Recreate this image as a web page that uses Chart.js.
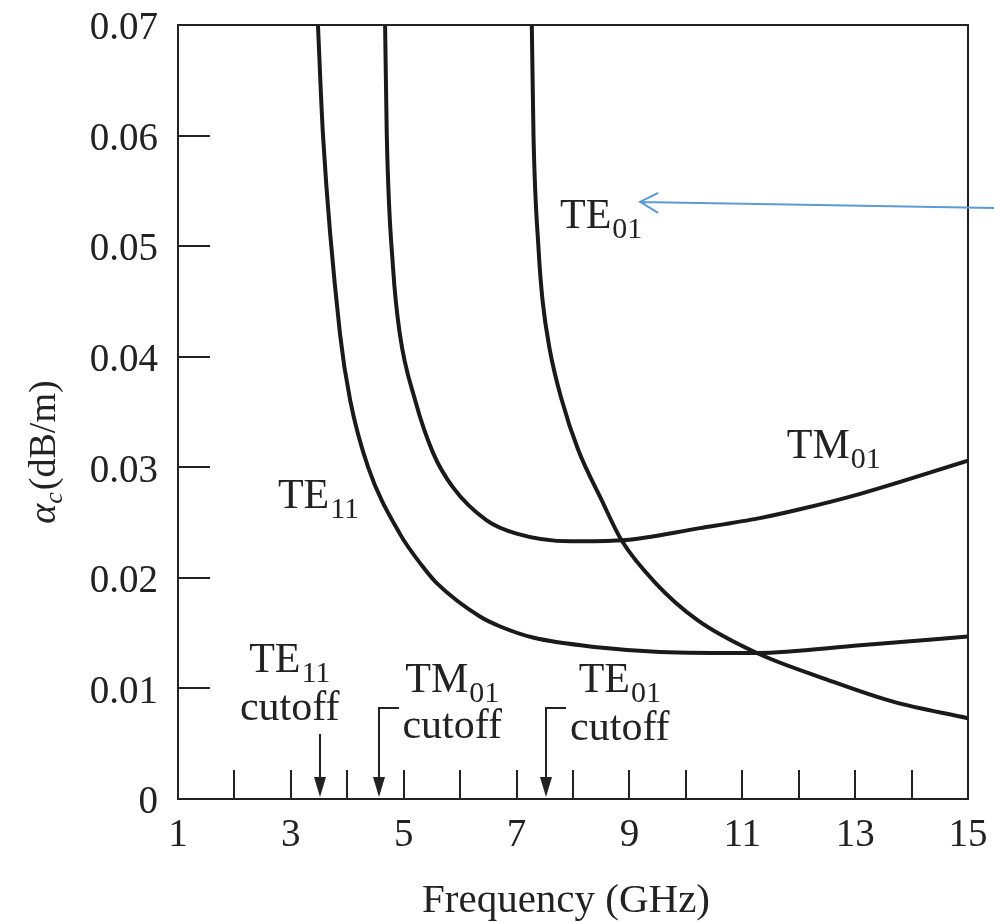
<!DOCTYPE html>
<html>
<head>
<meta charset="utf-8">
<script src="https://cdn.jsdelivr.net/npm/chart.js@4.4.1/dist/chart.umd.min.js"></script>
<style>
  html, body { margin: 0; padding: 0; background: #fff; }
</style>
</head>
<body>
<canvas id="lossChart" width="994" height="922"></canvas>
<script>
// attenuation of circular waveguide modes (GHz, dB/m)
const te11Freq = [3.48, 3.57, 3.87, 4.05, 4.37, 4.93, 5.34, 5.59, 6.35, 6.71, 7.29, 8.48, 9.54, 11.26, 13.09, 15.0];
const te11Atten = [0.070, 0.060, 0.0421, 0.0361, 0.0300, 0.0240, 0.0210, 0.0195, 0.0165, 0.0156, 0.0146, 0.0137, 0.0133, 0.0132, 0.0139, 0.0147];

const tm01Freq = [4.67, 4.70, 4.81, 4.93, 5.20, 5.52, 5.87, 6.47, 7.0, 7.95, 8.86, 10.25, 11.31, 12.02, 13.09, 15.0];
const tm01Atten = [0.070, 0.060, 0.0481, 0.0421, 0.0361, 0.0313, 0.0282, 0.0252, 0.0240, 0.0233, 0.0234, 0.0245, 0.0254, 0.0262, 0.0276, 0.0306];

const te01Freq = [7.27, 7.30, 7.39, 7.46, 7.59, 7.80, 8.09, 8.51, 8.86, 9.45, 10.2, 11.26, 12.5, 13.67, 15.0];
const te01Atten = [0.070, 0.060, 0.0497, 0.0451, 0.0406, 0.0361, 0.0316, 0.0270, 0.0234, 0.0196, 0.0162, 0.0132, 0.0108, 0.0088, 0.0073];

const modeNames = ["TE", "TM", "TE"];
const modeSubs = ["11", "01", "01"];
const cutoffFreq = [3.52, 4.56, 7.52];

const xTicks = [1, 3, 5, 7, 9, 11, 13, 15];
const xMinorTicks = [2, 3, 4, 5, 6, 7, 8, 9, 10, 11, 12, 13, 14];
const yTicks = [0, 0.01, 0.02, 0.03, 0.04, 0.05, 0.06, 0.07];

const toPoints = (xs, ys) => xs.map((f, i) => ({ x: f, y: ys[i] }));

const INK = "#222";
const SERIF = "'Liberation Serif', 'Times New Roman', serif";

// draws "TE" + subscript "01" style labels
function modeText(ctx, name, sub, x, y, align) {
  ctx.font = "42px " + SERIF;
  const w1 = ctx.measureText(name).width;
  ctx.font = "30px " + SERIF;
  const w2 = ctx.measureText(sub).width;
  let left = x;
  if (align === "center") left = x - (w1 + w2 + 1) / 2;
  ctx.textAlign = "left";
  ctx.textBaseline = "alphabetic";
  ctx.font = "42px " + SERIF;
  ctx.fillText(name, left, y);
  ctx.font = "30px " + SERIF;
  ctx.fillText(sub, left + w1 + 1, y + 10);
}

const decorations = {
  id: "decorations",
  afterDatasetsDraw(chart) {
    const { ctx, chartArea: a, scales: { x, y } } = chart;
    ctx.save();
    ctx.strokeStyle = INK;
    ctx.fillStyle = INK;
    ctx.lineWidth = 2;

    // frame + inward ticks
    ctx.strokeRect(a.left, a.top, a.right - a.left, a.bottom - a.top);
    ctx.beginPath();
    xMinorTicks.forEach(f => {
      const px = Math.round(x.getPixelForValue(f));
      ctx.moveTo(px, a.bottom);
      ctx.lineTo(px, a.bottom - 29);
    });
    yTicks.forEach(v => {
      if (v <= 0 || v >= 0.07) return;
      const py = Math.round(y.getPixelForValue(v));
      ctx.moveTo(a.left, py);
      ctx.lineTo(a.left + 32, py);
    });
    ctx.stroke();

    // curve labels
    modeText(ctx, modeNames[0], modeSubs[0], x.getPixelForValue(2.77), y.getPixelForValue(0.0263));
    modeText(ctx, modeNames[1], modeSubs[1], x.getPixelForValue(11.79), y.getPixelForValue(0.0308));
    modeText(ctx, modeNames[2], modeSubs[2], x.getPixelForValue(7.77), y.getPixelForValue(0.0516));

    // cutoff markers
    const textX = [2.98, 5.86, 8.83];
    const nameY = [0.01149, 0.00968, 0.00968];
    const wordY = [0.00714, 0.00552, 0.00534];
    const stemTop = [0.00588, 0.00823, 0.00823];
    cutoffFreq.forEach((f, i) => {
      const px = Math.round(x.getPixelForValue(f));
      const top = y.getPixelForValue(stemTop[i]);
      ctx.beginPath();
      if (i > 0) {
        ctx.moveTo(px + 20, top);
        ctx.lineTo(px, top);
      } else {
        ctx.moveTo(px, top);
      }
      ctx.lineTo(px, a.bottom - 14);
      ctx.stroke();
      ctx.beginPath();
      ctx.moveTo(px, a.bottom - 2);
      ctx.lineTo(px - 6, a.bottom - 22);
      ctx.lineTo(px + 6, a.bottom - 22);
      ctx.closePath();
      ctx.fill();

      const cx = x.getPixelForValue(textX[i]);
      modeText(ctx, modeNames[i], modeSubs[i], cx, y.getPixelForValue(nameY[i]), "center");
      ctx.font = "42px " + SERIF;
      ctx.textAlign = "center";
      ctx.fillText("cutoff", cx, y.getPixelForValue(wordY[i]));
    });

    // axis titles
    ctx.textAlign = "center";
    ctx.textBaseline = "alphabetic";
    ctx.font = "41px " + SERIF;
    ctx.fillText("Frequency (GHz)", (a.left + a.right) / 2 - 7, 912);

    ctx.save();
    ctx.translate(55, 452);
    ctx.rotate(-Math.PI / 2);
    ctx.textAlign = "left";
    ctx.font = "italic 38px " + SERIF;
    const wA = ctx.measureText("α").width;
    ctx.font = "italic 26px " + SERIF;
    const wC = ctx.measureText("c").width;
    ctx.font = "38px " + SERIF;
    const wU = ctx.measureText("(dB/m)").width;
    const sx = -(wA + wC + wU + 2) / 2;
    ctx.font = "italic 38px " + SERIF;
    ctx.fillText("α", sx, 0);
    ctx.font = "italic 26px " + SERIF;
    ctx.fillText("c", sx + wA, 7);
    ctx.font = "38px " + SERIF;
    ctx.fillText("(dB/m)", sx + wA + wC + 2, 0);
    ctx.restore();

    // blue pointer arrow
    const tipX = x.getPixelForValue(9.19);
    const tipY = y.getPixelForValue(0.0540);
    ctx.strokeStyle = "#5b9bd5";
    ctx.lineWidth = 2;
    ctx.beginPath();
    ctx.moveTo(chart.width, tipY + 6);
    ctx.lineTo(tipX, tipY);
    ctx.moveTo(tipX + 18, tipY - 9);
    ctx.lineTo(tipX, tipY);
    ctx.lineTo(tipX + 18, tipY + 11);
    ctx.stroke();
    ctx.restore();
  }
};

const curveStyle = {
  borderColor: "#1a1a1a",
  borderWidth: 4,
  pointRadius: 0,
  fill: false,
  cubicInterpolationMode: "monotone"
};

new Chart(document.getElementById("lossChart"), {
  type: "line",
  data: {
    datasets: [
      { label: "TE11", data: toPoints(te11Freq, te11Atten), ...curveStyle },
      { label: "TM01", data: toPoints(tm01Freq, tm01Atten), ...curveStyle },
      { label: "TE01", data: toPoints(te01Freq, te01Atten), ...curveStyle }
    ]
  },
  options: {
    responsive: false,
    animation: false,
    layout: { padding: { top: 25, right: 26, left: 0, bottom: 0 } },
    plugins: {
      legend: { display: false },
      tooltip: { enabled: false }
    },
    scales: {
      x: {
        type: "linear",
        min: 1,
        max: 15,
        afterFit(scale) {
          scale.height = 123;
          scale.paddingLeft = 0;
          scale.paddingRight = 0;
        },
        afterBuildTicks(scale) { scale.ticks = xTicks.map(v => ({ value: v })); },
        grid: { display: false, drawTicks: false },
        border: { display: false },
        ticks: {
          padding: 13,
          color: INK,
          maxRotation: 0,
          font: { family: SERIF, size: 39 }
        }
      },
      y: {
        min: 0,
        max: 0.07,
        afterFit(scale) {
          scale.width = 178;
          scale.paddingTop = 0;
          scale.paddingBottom = 0;
        },
        afterBuildTicks(scale) { scale.ticks = yTicks.map(v => ({ value: v })); },
        grid: { display: false, drawTicks: false },
        border: { display: false },
        ticks: {
          padding: 20,
          labelOffset: 4,
          color: INK,
          font: { family: SERIF, size: 39 },
          callback: v => (v === 0 ? "0" : v.toFixed(2))
        }
      }
    }
  },
  plugins: [decorations]
});
</script>
</body>
</html>
